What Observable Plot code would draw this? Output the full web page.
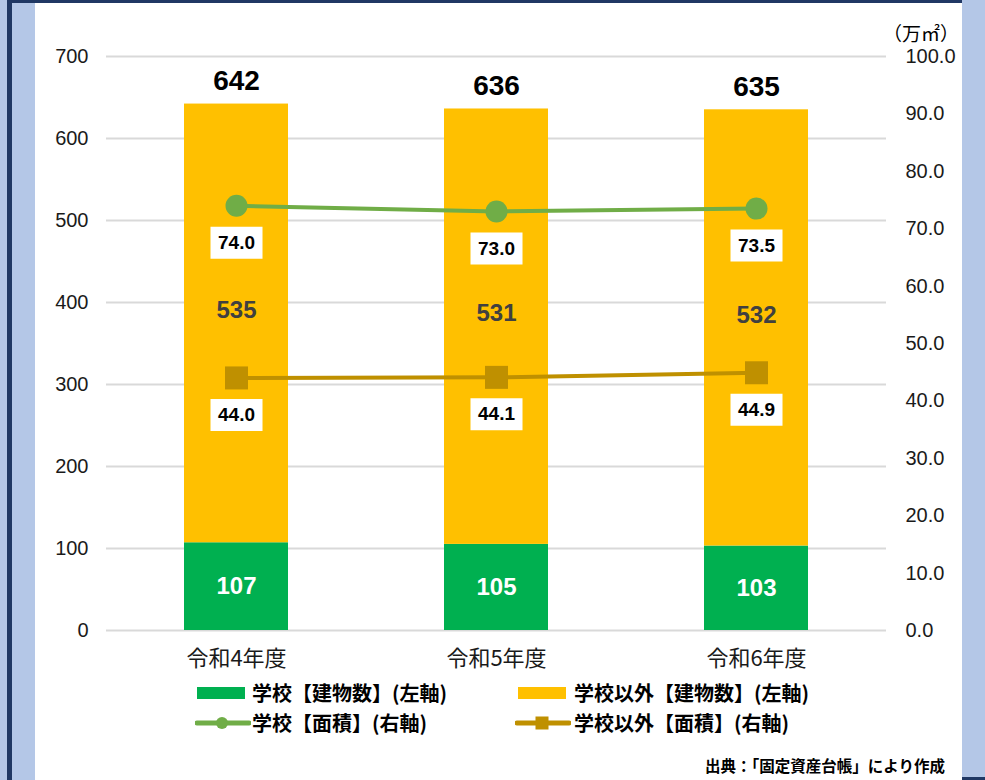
<!DOCTYPE html>
<html><head><meta charset="utf-8">
<script src="https://cdn.jsdelivr.net/npm/d3@7"></script>
<script src="https://cdn.jsdelivr.net/npm/@observablehq/plot@0.6"></script>
<style>
html,body{margin:0;padding:0;background:#fff;}
#wrap{position:relative;width:985px;height:780px;overflow:hidden;background:#fff;font-family:"Liberation Sans",Arial,sans-serif;}
.abs{position:absolute;}
.jp{font-family:"Noto Sans CJK JP","Noto Sans",sans-serif;}
.leg{position:absolute;font-family:"Noto Sans CJK JP",sans-serif;font-weight:700;font-size:20px;color:#000;line-height:24px;white-space:nowrap;}
</style></head>
<body>
<div id="wrap">
  <div class="abs" style="left:0;top:0;width:35px;height:780px;background:#B4C7E7"></div>
  <div class="abs" style="left:7px;top:0;width:5px;height:780px;background:#203864"></div>
  <div class="abs" style="left:7px;top:0;width:955px;height:3px;background:#203864"></div>
  <div class="abs" style="left:962px;top:0;width:23px;height:780px;background:#B4C7E7"></div>
  <div class="abs" style="left:962px;top:777px;width:23px;height:3px;background:#203864"></div>
  <div id="chart" class="abs" style="left:0;top:0;"></div>
  <div class="abs jp" id="unit" style="right:26px;top:20px;font-size:19px;line-height:26px;color:#000;white-space:nowrap;"></div>
  <div id="legend"></div>
  <div class="abs jp" id="source" style="right:40px;top:754px;font-size:15.5px;font-weight:700;color:#000;white-space:nowrap;"></div>
</div>
<script>
const years = ["令和4年度", "令和5年度", "令和6年度"];
const schoolCount = [107, 105, 103];
const otherCount = [535, 531, 532];
const totalCount = [642, 636, 635];
const schoolArea = [74.0, 73.0, 73.5];
const otherArea = [44.0, 44.1, 44.9];
const leftTicks = [0, 100, 200, 300, 400, 500, 600, 700];
const rightTicks = [0, 10, 20, 30, 40, 50, 60, 70, 80, 90, 100];
const seriesNames = ["学校【建物数】(左軸)", "学校以外【建物数】(左軸)", "学校【面積】(右軸)", "学校以外【面積】(右軸)"];
const colors = ["#00B050", "#FFC000", "#70AD47", "#BF9000"];
const unitLabel = "（万㎡）";
const sourceText = "出典：「固定資産台帳」により作成";

const k = 7; // right axis 100.0 == left axis 700
const barData = years.flatMap((y, i) => [
  {year: y, series: seriesNames[0], value: schoolCount[i]},
  {year: y, series: seriesNames[1], value: otherCount[i]}
]);
const schoolLbl = years.map((y, i) => ({year: y, v: schoolCount[i] / 2, t: String(schoolCount[i])}));
const otherLbl = years.map((y, i) => ({year: y, v: schoolCount[i] + otherCount[i] / 2, t: String(otherCount[i])}));
const totalLbl = years.map((y, i) => ({year: y, v: totalCount[i], t: String(totalCount[i])}));
const sArea = years.map((y, i) => ({year: y, v: schoolArea[i] * k, t: schoolArea[i].toFixed(1)}));
const oArea = years.map((y, i) => ({year: y, v: otherArea[i] * k, t: otherArea[i].toFixed(1)}));

const boxSym = {draw(ctx) { ctx.rect(-26, -16, 52, 32); }};
const sqSym = {draw(ctx) { ctx.rect(-11.5, -11.5, 23, 23); }};

const chart = Plot.plot({
  width: 985, height: 690,
  marginLeft: 106, marginRight: 99, marginTop: 56, marginBottom: 60,
  style: {fontFamily: "'Liberation Sans', Arial, sans-serif", fontSize: "20px", color: "#000", background: "transparent"},
  x: {domain: years, paddingInner: 0.6, paddingOuter: 0.3, label: null},
  y: {domain: [0, 700], label: null},
  color: {domain: seriesNames.slice(0, 2), range: colors.slice(0, 2)},
  marks: [
    Plot.ruleY(leftTicks, {stroke: "#d9d9d9", strokeWidth: 2}),
    Plot.barY(barData, {x: "year", y: "value", fill: "series"}),
    Plot.axisY(leftTicks, {anchor: "left", tickSize: 0, tickPadding: 18, label: null, fontSize: 20, fill: "#1a1a1a"}),
    Plot.axisY(rightTicks.map(v => v * k), {anchor: "right", tickSize: 0, tickPadding: 19, label: null, textAnchor: "start", fontSize: 20, fill: "#1a1a1a", tickFormat: d => (d / k).toFixed(1)}),
    Plot.axisX({tickSize: 0, tickPadding: 20, label: null, fontSize: 22, fontFamily: "'Noto Sans CJK JP', sans-serif", fill: "#1a1a1a"}),
    Plot.text(schoolLbl, {x: "year", y: "v", text: "t", fill: "#fff", fontSize: 24, fontWeight: "bold"}),
    Plot.text(otherLbl, {x: "year", y: "v", text: "t", fill: "#404040", fontSize: 24, fontWeight: "bold", dy: -13}),
    Plot.text(totalLbl, {x: "year", y: "v", text: "t", fill: "#000", fontSize: 28, fontWeight: "bold", dy: -23}),
    Plot.line(sArea, {x: "year", y: "v", stroke: colors[2], strokeWidth: 4}),
    Plot.dot(sArea, {x: "year", y: "v", r: 11, fill: colors[2], stroke: "none"}),
    Plot.line(oArea, {x: "year", y: "v", stroke: colors[3], strokeWidth: 4}),
    Plot.dot(oArea, {x: "year", y: "v", symbol: sqSym, fill: colors[3], stroke: "none"}),
    Plot.dot(sArea, {x: "year", y: "v", symbol: boxSym, fill: "#fff", stroke: "none", dy: 37}),
    Plot.text(sArea, {x: "year", y: "v", text: "t", fill: "#000", fontSize: 19, fontWeight: "bold", dy: 37}),
    Plot.dot(oArea, {x: "year", y: "v", symbol: boxSym, fill: "#fff", stroke: "none", dy: 37}),
    Plot.text(oArea, {x: "year", y: "v", text: "t", fill: "#000", fontSize: 19, fontWeight: "bold", dy: 37})
  ]
});
document.getElementById("chart").appendChild(chart);
document.getElementById("unit").textContent = unitLabel;
document.getElementById("source").textContent = sourceText;

// legend
const legendItems = [
  {name: seriesNames[0], color: colors[0], kind: "bar", sx: 197, tx: 252, y: 693},
  {name: seriesNames[1], color: colors[1], kind: "bar", sx: 518, tx: 574, y: 693},
  {name: seriesNames[2], color: colors[2], kind: "circle", sx: 195, tx: 252, y: 723},
  {name: seriesNames[3], color: colors[3], kind: "square", sx: 515, tx: 574, y: 723}
];
const leg = document.getElementById("legend");
legendItems.forEach(it => {
  const svg = d3.create("svg").attr("width", 56).attr("height", 20)
    .style("position", "absolute").style("left", it.sx + "px").style("top", (it.y - 10) + "px");
  if (it.kind === "bar") {
    svg.append("rect").attr("x", 0).attr("y", 4).attr("width", 48).attr("height", 12).attr("fill", it.color);
  } else {
    svg.append("line").attr("x1", 2).attr("x2", 54).attr("y1", 10).attr("y2", 10)
      .attr("stroke", it.color).attr("stroke-width", 5).attr("stroke-linecap", "round");
    if (it.kind === "circle") svg.append("circle").attr("cx", 27).attr("cy", 10).attr("r", 6).attr("fill", it.color);
    else svg.append("rect").attr("x", 20.5).attr("y", 3.5).attr("width", 13).attr("height", 13).attr("fill", it.color);
  }
  leg.appendChild(svg.node());
  const d = document.createElement("div");
  d.className = "leg";
  d.style.left = it.tx + "px";
  d.style.top = (it.y - 12) + "px";
  d.textContent = it.name;
  leg.appendChild(d);
});
</script>
</body></html>
